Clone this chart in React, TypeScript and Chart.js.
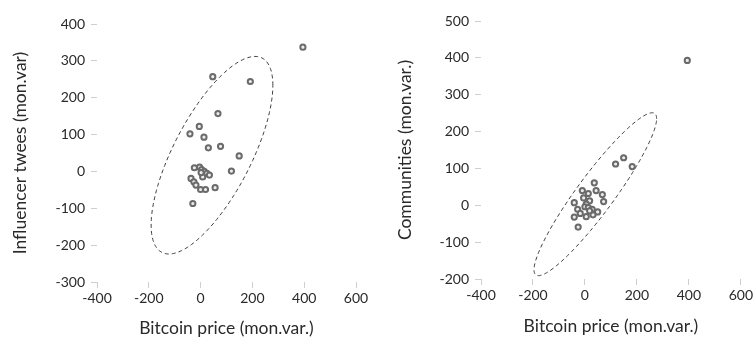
import React, { useEffect, useRef } from "react";
import { Chart, registerables } from "chart.js";

Chart.register(...registerables);

// Left panel: Bitcoin price vs Influencer tweets (monthly variation)
const tweetsBtc = [47, 192, 67, -5, -41, 13, 30, 77, 149, 119, -24, -4, 4, 14, 24, 34, 8, 2, -37, -26, -18, 0, 19, 56, -30, 395];
const tweetsVal = [257, 244, 157, 122, 102, 93, 64, 68, 42, 1, 10, 12, 5, 0, -5, -10, -15, -3, -19, -28, -37, -49, -49, -44, -87, 337];

// Right panel: Bitcoin price vs Communities (monthly variation)
const commBtc = [118, 149, 182, 36, -10, 43, 13, 67, -5, 18, 72, -41, 5, 0, 13, -28, 28, 49, -18, -41, 5, 31, -26, 18, 394];
const commVal = [112, 129, 105, 61, 40, 40, 32, 29, 20, 12, 10, 7, 3, -4, -6, -11, -11, -18, -22, -32, -31, -26, -59, -15, 393];

// Confidence ellipses (center, half extents, phase in degrees)
const tweetsEllipse = { cx: 44, cy: 44, rx: 235, ry: 268, phi: 45 };
const commEllipse = { cx: 40, cy: 30, rx: 236, ry: 221, phi: 22 };

const xTitle = "Bitcoin price (mon.var.)";
const yTitleLeft = "Influencer twees (mon.var)";
const yTitleRight = "Communities (mon.var.)";

const FONT = "Lato, 'Open Sans', sans-serif";
const TEXT = "#2a2a2a";
const TICK_LINE = "#cfcfcf";

const ellipsePlugin = {
  id: "ellipse",
  beforeDatasetsDraw(chart: any, _args: any, opts: any) {
    const { cx, cy, rx, ry, phi } = opts;
    if (rx == null) return;
    const xs = chart.scales.x;
    const ys = chart.scales.y;
    const ctx = chart.ctx;
    const ph = (phi * Math.PI) / 180;
    ctx.save();
    ctx.beginPath();
    const N = 240;
    for (let i = 0; i <= N; i++) {
      const t = (2 * Math.PI * i) / N;
      const x = cx + rx * Math.cos(t);
      const y = cy + ry * Math.cos(t - ph);
      const px = xs.getPixelForValue(x);
      const py = ys.getPixelForValue(y);
      if (i === 0) ctx.moveTo(px, py);
      else ctx.lineTo(px, py);
    }
    ctx.closePath();
    ctx.setLineDash([4, 3]);
    ctx.lineWidth = 1;
    ctx.strokeStyle = "#3c3c3c";
    ctx.stroke();
    ctx.restore();
  },
};

type PanelProps = {
  xs: number[];
  ys: number[];
  ellipse: any;
  yTitle: string;
  yMin: number;
  yMax: number;
  width: number;
  left: number;
  pad: { top: number; right: number };
  yAxisWidth: number;
  xAxisHeight: number;
  yTitlePad: number;
  xTitlePad: number;
};

function Panel(p: PanelProps) {
  const ref = useRef<HTMLCanvasElement | null>(null);
  useEffect(() => {
    if (!ref.current) return;
    const pts = p.xs.map((x, i) => ({ x, y: p.ys[i] }));
    const tickFont = { family: FONT, size: 14 };
    const titleFont = { family: FONT, size: 17.5 };
    const chart = new Chart(ref.current, {
      type: "scatter",
      data: {
        datasets: [
          {
            data: pts,
            pointRadius: 2.6,
            pointBorderWidth: 2,
            borderColor: "#6a6a6a",
            backgroundColor: "#ececec",
          },
        ],
      },
      plugins: [ellipsePlugin],
      options: {
        responsive: false,
        animation: false,
        layout: { padding: { top: p.pad.top, right: p.pad.right, left: 0, bottom: 0 } },
        plugins: {
          legend: { display: false },
          tooltip: { enabled: false },
          ellipse: p.ellipse,
        } as any,
        scales: {
          x: {
            type: "linear",
            min: -400,
            max: 600,
            ticks: { stepSize: 200, font: tickFont, color: TEXT, padding: 2 },
            grid: { drawOnChartArea: false, tickLength: 6, color: TICK_LINE },
            border: { display: false },
            title: {
              display: true,
              text: xTitle,
              font: titleFont,
              color: TEXT,
              padding: { top: 0, bottom: p.xTitlePad },
            },
            afterFit: (s: any) => {
              s.height = p.xAxisHeight;
            },
          },
          y: {
            type: "linear",
            min: p.yMin,
            max: p.yMax,
            ticks: { stepSize: 100, font: tickFont, color: TEXT, padding: 6 },
            grid: { drawOnChartArea: false, tickLength: 6, color: TICK_LINE },
            border: { display: false },
            title: {
              display: true,
              text: p.yTitle,
              font: titleFont,
              color: TEXT,
              padding: { top: p.yTitlePad, bottom: 0 },
            },
            afterFit: (s: any) => {
              s.width = p.yAxisWidth;
            },
          },
        },
      } as any,
    });
    return () => chart.destroy();
  }, []);
  return (
    <canvas
      ref={ref}
      width={p.width}
      height={345}
      style={{ position: "absolute", left: p.left, top: 0, width: p.width, height: 345, display: "block" }}
    />
  );
}

export default function App() {
  return (
    <div style={{ position: "fixed", left: 0, top: 0, width: 755, height: 345, background: "#fff", overflow: "hidden" }}>
      <Panel
        xs={tweetsBtc}
        ys={tweetsVal}
        ellipse={tweetsEllipse}
        yTitle={yTitleLeft}
        yMin={-300}
        yMax={400}
        width={377}
        left={0}
        pad={{ top: 24, right: 21 }}
        yAxisWidth={97}
        xAxisHeight={63}
        yTitlePad={9.5}
        xTitlePad={6.5}
      />
      <Panel
        xs={commBtc}
        ys={commVal}
        ellipse={commEllipse}
        yTitle={yTitleRight}
        yMin={-200}
        yMax={500}
        width={378}
        left={377}
        pad={{ top: 21, right: 13 }}
        yAxisWidth={104}
        xAxisHeight={66}
        yTitlePad={17.5}
        xTitlePad={8.5}
      />
    </div>
  );
}
